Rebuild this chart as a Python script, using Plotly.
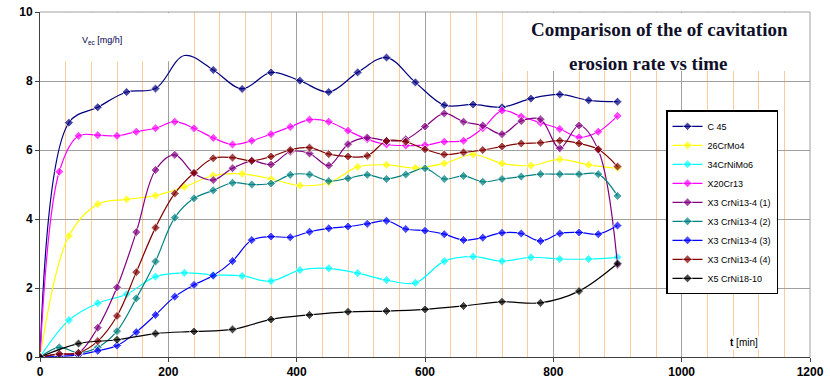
import plotly.graph_objects as go

# ---- data (time in min, erosion rate in mg/h) ----
t45 = [0, 45, 90, 135, 180, 225, 270, 315, 360, 405, 450, 495, 540, 585, 630, 675, 720, 765, 810, 855, 900]
t30 = [0, 30, 60, 90, 120, 150, 180, 210, 240, 270, 300, 330, 360, 390, 420, 450, 480, 510, 540, 570,
       600, 630, 660, 690, 720, 750, 780, 810, 840, 870, 900]
t60 = [0, 60, 120, 180, 240, 300, 360, 420, 480, 540, 600, 660, 720, 780, 840, 900]

c45 = [0, 6.79, 7.24, 7.68, 7.78, 8.74, 8.32, 7.77, 8.25, 8.01, 7.68, 8.25, 8.68, 7.96, 7.30, 7.32, 7.24,
       7.49, 7.61, 7.44, 7.40]
crmo4 = [0, 3.51, 4.43, 4.57, 4.68, 4.93, 5.26, 5.31, 5.16, 4.97, 5.05, 5.51, 5.57, 5.48, 5.61, 5.87, 5.61,
         5.55, 5.73, 5.57, 5.47]
crnimo6 = [0, 1.07, 1.56, 1.82, 2.33, 2.44, 2.38, 2.35, 2.20, 2.52, 2.57, 2.43, 2.23, 2.15, 2.78, 2.91, 2.78,
           2.89, 2.84, 2.84, 2.89]
x20cr13 = [0, 5.37, 6.41, 6.43, 6.41, 6.53, 6.63, 6.82, 6.63, 6.35, 6.16, 6.27, 6.46, 6.67, 6.88, 6.82, 6.56,
           6.31, 6.16, 6.13, 6.14, 6.24, 6.27, 6.63, 7.14, 6.97, 6.79, 6.61, 6.37, 6.53, 6.99]
x3_1 = [0, 0.08, 0.12, 0.85, 2.02, 3.62, 5.42, 5.86, 5.32, 5.13, 5.47, 5.68, 5.58, 5.95, 5.90, 5.55, 6.17,
        6.36, 6.27, 6.31, 6.68, 7.06, 6.82, 6.71, 6.46, 6.84, 6.89, 6.05, 6.71, 6.00, 2.67]
x3_2 = [0, 0.28, 0.12, 0.28, 0.75, 1.70, 2.77, 4.04, 4.60, 4.83, 5.05, 5.00, 5.03, 5.28, 5.29, 5.10, 5.18,
        5.28, 5.16, 5.29, 5.47, 5.16, 5.25, 5.08, 5.16, 5.23, 5.30, 5.30, 5.30, 5.30, 4.67]
x3_3 = [0, 0.02, 0.06, 0.18, 0.33, 0.72, 1.22, 1.75, 2.09, 2.36, 2.78, 3.39, 3.49, 3.47, 3.63, 3.73, 3.78,
        3.86, 3.95, 3.71, 3.66, 3.56, 3.39, 3.46, 3.60, 3.58, 3.36, 3.58, 3.61, 3.56, 3.81]
x3_4 = [0, 0.09, 0.12, 0.46, 1.19, 2.46, 3.75, 4.74, 5.34, 5.76, 5.78, 5.69, 5.81, 6.00, 6.07, 5.88, 5.81,
        5.83, 6.26, 6.24, 6.02, 5.87, 5.93, 6.00, 6.10, 6.19, 6.21, 6.27, 6.19, 6.02, 5.52]
x5 = [0, 0.39, 0.50, 0.68, 0.74, 0.80, 1.09, 1.22, 1.31, 1.33, 1.38, 1.48, 1.60, 1.57, 1.91, 2.71]

names = ["C 45", "26CrMo4", "34CrNiMo6", "X20Cr13", "X3 CrNi13-4 (1)", "X3 CrNi13-4 (2)",
         "X3 CrNi13-4 (3)", "X3 CrNi13-4 (4)", "X5 CrNi18-10"]
colors = ["#000080", "#FFFF00", "#00FFFF", "#FF00FF", "#800080", "#008080", "#0000FF", "#800000", "#000000"]
xs = [t45, t45, t45, t30, t30, t30, t30, t30, t60]
ys = [c45, crmo4, crnimo6, x20cr13, x3_1, x3_2, x3_3, x3_4, x5]

fig = go.Figure()
for i, (nm, col, x, y) in enumerate(zip(names, colors, xs, ys)):
    sizes = [7] * len(x)
    if i == 0:
        sizes[5] = 0  # point without visible marker in the original
    fig.add_trace(go.Scatter(
        x=x, y=y, name=nm, mode="lines+markers",
        line=dict(color=col, width=1.2, shape="spline", smoothing=1.0),
        marker=dict(symbol="diamond", size=sizes, color=col),
    ))

axis_font = dict(family="Liberation Sans", size=12, color="#000000", weight="bold")

fig.update_layout(
    width=830, height=390,
    margin=dict(l=40, r=20, t=12, b=33, autoexpand=False),
    paper_bgcolor="white", plot_bgcolor="white",
    showlegend=True,
    legend=dict(
        x=0.813, y=0.715, xanchor="left", yanchor="top",
        bgcolor="white", bordercolor="#000000", borderwidth=1.5,
        font=dict(family="Liberation Sans", size=9, color="#000000"),
        itemwidth=30, tracegroupgap=0,
    ),
    xaxis=dict(
        range=[0, 1200], tick0=0, dtick=200, automargin=False,
        showgrid=True, gridcolor="#A0A0A0", gridwidth=1,
        minor=dict(dtick=40, showgrid=True, gridcolor="#FFCC99", gridwidth=1),
        showline=True, linecolor="#404040", linewidth=1,
        ticks="outside", ticklen=4, tickcolor="#404040",
        tickfont=axis_font, zeroline=False,
    ),
    yaxis=dict(
        range=[0, 10], tick0=0, dtick=2, automargin=False,
        showgrid=True, gridcolor="#A0A0A0", gridwidth=1,
        showline=True, linecolor="#404040", linewidth=1,
        ticks="outside", ticklen=4, tickcolor="#404040",
        tickfont=axis_font, zeroline=False,
    ),
    shapes=[
        # white box behind the title
        dict(type="rect", xref="paper", yref="paper", x0=0.601, x1=0.998, y0=0.829, y1=0.997,
             fillcolor="white", line=dict(width=0), layer="above"),
        # white box behind the y label
        dict(type="rect", xref="paper", yref="paper", x0=0.002, x1=0.168, y0=0.857, y1=0.997,
             fillcolor="white", line=dict(width=0), layer="above"),
        # gray frame on top and right of the plot area
        dict(type="line", xref="paper", yref="paper", x0=0, x1=1, y0=1, y1=1,
             line=dict(color="#A0A0A0", width=1), layer="above"),
        dict(type="line", xref="paper", yref="paper", x0=1, x1=1, y0=0, y1=1,
             line=dict(color="#A0A0A0", width=1), layer="above"),
    ],
    annotations=[
        dict(text="<b>Comparison of the of cavitation</b>", xref="paper", yref="paper",
             x=0.805, y=0.948, xanchor="center", yanchor="middle", showarrow=False,
             font=dict(family="Liberation Serif", size=19, color="#10102a")),
        dict(text="<b>erosion rate vs time</b>", xref="paper", yref="paper",
             x=0.790, y=0.850, xanchor="center", yanchor="middle", showarrow=False,
             font=dict(family="Liberation Serif", size=19, color="#10102a")),
        dict(text="V<sub>ec</sub> [mg/h]", xref="paper", yref="paper",
             x=0.052, y=0.918, xanchor="left", yanchor="middle", showarrow=False,
             font=dict(family="Liberation Sans", size=9, color="#000050")),
        dict(text="<b>t</b> [min]", xref="paper", yref="paper",
             x=0.893, y=0.043, xanchor="left", yanchor="middle", showarrow=False,
             bgcolor="white", font=dict(family="Liberation Sans", size=10, color="#000000")),
    ],
)

fig.write_html("out.html", config={"displayModeBar": False},
               post_script="document.body.style.margin='0px';document.body.style.overflow='hidden';")
